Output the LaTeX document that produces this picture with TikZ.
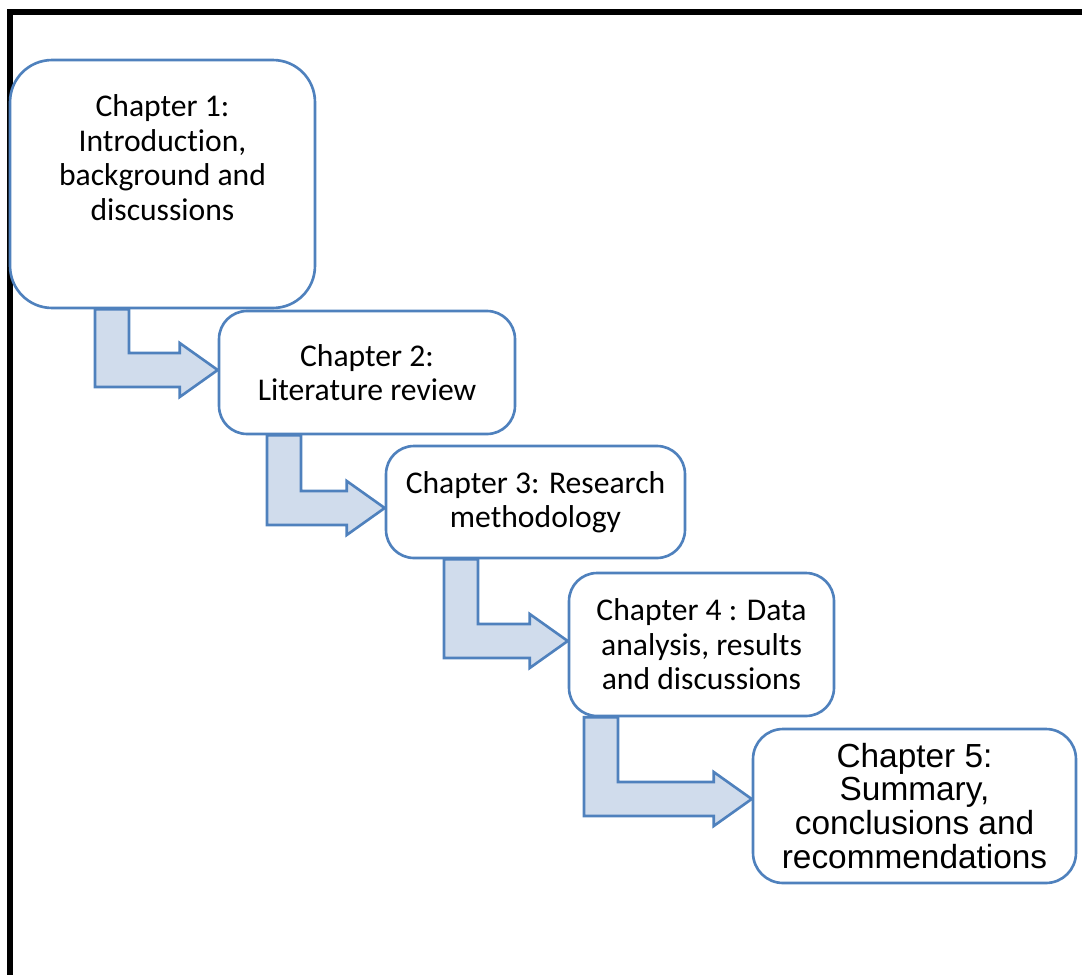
\documentclass[tikz,border=0pt]{standalone}
\usepackage{fontspec}
\setmainfont{Carlito}[Ligatures=NoCommon]
\newfontfamily\arialfont{Liberation Sans}
\usetikzlibrary{calc,positioning}
\definecolor{officeblue}{RGB}{79,129,189}
\definecolor{arrowfill}{RGB}{208,220,236}
\tikzstyle{chapter} = [rectangle, draw=officeblue, line width=1.5pt, fill=white,
    rounded corners=0.56cm, align=center, inner sep=0pt,
    font=\fontsize{18}{19.6}\selectfont]
\tikzstyle{flow} = [draw=officeblue, line width=1.5pt, fill=arrowfill, line join=miter]
\tikzstyle{frame} = [draw=black, line width=0.12cm]
% bent block arrow: source node, shaft offset, target node, tip offset
\newcommand{\bentarrow}[4]{%
  \draw[flow] ($(#1.south)+(#2,0)$) -- ++(34,0) |- ($(#3.west)+(-38,#4-17)$)
    -- ++(0,-10) -- ($(#3.west)+(0,#4)$) -- ++(-38,27) -- ++(0,-10)
    -| ($(#1.south)+(#2,0)$) -- cycle;
}

\begin{document}
\begin{tikzpicture}[x=0.02cm,y=-0.02cm]
\clip (0,0) rectangle (1082,974);
\draw[frame] (10,12) rectangle (1200,1100);

\node[chapter, minimum width=6.1cm, minimum height=4.96cm, rounded corners=0.84cm] (ch1) at (162.5,184) {};
\node[align=center, font=\fontsize{18}{19.6}\selectfont] (ch1text) at ([yshift=0.53cm]ch1.center)
    {Chapter 1:\\Introduction,\\background and\\discussions};
\node[chapter, minimum width=5.92cm, minimum height=2.46cm] (ch2) at (367,372.5)
    {Chapter 2:\\Literature review};
\node[chapter, minimum width=5.98cm, minimum height=2.24cm] (ch3) at (535.5,502)
    {Chapter 3: Research\\methodology};
\node[chapter, minimum width=5.3cm, minimum height=2.86cm] (ch4) at (701.5,644.5)
    {Chapter 4 : Data\\analysis, results\\and discussions};
\node[chapter, minimum width=6.46cm, minimum height=3.08cm, rounded corners=0.6cm,
    font=\arialfont\fontsize{19}{19.3}\selectfont] (ch5) at (914.5,806)
    {Chapter 5:\\Summary,\\conclusions and\\recommendations};

\bentarrow{ch1}{-67.5}{ch2}{-2.5}
\bentarrow{ch2}{-100}{ch3}{6}
\bentarrow{ch3}{-91.5}{ch4}{-3.5}
\bentarrow{ch4}{-117.5}{ch5}{-7}

\end{tikzpicture}
\end{document}
